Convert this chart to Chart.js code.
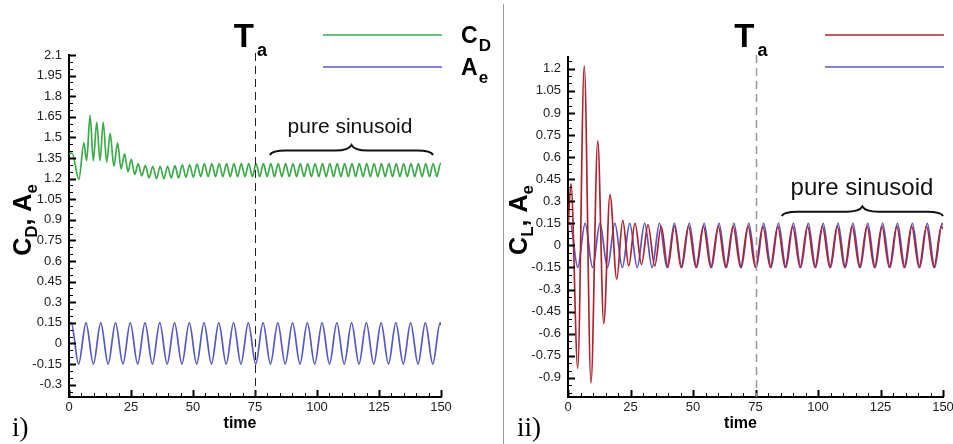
<!DOCTYPE html>
<html>
<head>
<meta charset="utf-8">
<script src="https://cdn.jsdelivr.net/npm/chart.js@4.4.0/dist/chart.umd.min.js"></script>
<style>
  html, body { margin: 0; padding: 0; background: #fff; }
  #wrap { position: relative; width: 953px; height: 444px; overflow: hidden; }
  #left { position: absolute; left: 0; top: 0; width: 503px; height: 444px; }
  #right { position: absolute; left: 504px; top: 0; width: 449px; height: 444px; }
  #sep { position: absolute; left: 503px; top: 4px; width: 1px; height: 440px; background: #9a9a9a; }
</style>
</head>
<body>
<div id="wrap">
  <div id="left"><canvas id="c1"></canvas></div>
  <div id="sep"></div>
  <div id="right"><canvas id="c2"></canvas></div>
</div>
<script>
// ---- data (local extrema of each trace) ----
const timeTicks = [0, 25, 50, 75, 100, 125, 150];
const yTicksDrag = [-0.3, -0.15, 0, 0.15, 0.3, 0.45, 0.6, 0.75, 0.9, 1.05, 1.2, 1.35, 1.5, 1.65, 1.8, 1.95, 2.1];
const yTicksLift = [-0.9, -0.75, -0.6, -0.45, -0.3, -0.15, 0, 0.15, 0.3, 0.45, 0.6, 0.75, 0.9, 1.05, 1.2];

// A_e (same forcing in both panels)
const aeTime = [
  0, 0.90, 3.88, 6.85, 9.83, 12.80, 15.78, 18.75, 21.73, 24.70, 27.68,
  30.65, 33.63, 36.60, 39.58, 42.55, 45.53, 48.50, 51.48, 54.45, 57.43,
  60.40, 63.38, 66.35, 69.33, 72.30, 75.28, 78.25, 81.23, 84.20, 87.18,
  90.15, 93.13, 96.10, 99.08, 102.05, 105.03, 108.00, 110.98, 113.95, 116.93,
  119.90, 122.88, 125.85, 128.83, 131.80, 134.78, 137.75, 140.73, 143.70, 146.68,
  149.65, 150
];
const aeValue = [
  0.14, 0.15, -0.15, 0.15, -0.15, 0.15, -0.15, 0.15, -0.15, 0.15, -0.15,
  0.15, -0.15, 0.15, -0.15, 0.15, -0.15, 0.15, -0.15, 0.15, -0.15,
  0.15, -0.15, 0.15, -0.15, 0.15, -0.15, 0.15, -0.15, 0.15, -0.15,
  0.15, -0.15, 0.15, -0.15, 0.15, -0.15, 0.15, -0.15, 0.15, -0.15,
  0.15, -0.15, 0.15, -0.15, 0.15, -0.15, 0.15, -0.15, 0.15, -0.15,
  0.15, 0.135
];

// C_D
const cdTime = [
  0, 1.2, 4.0, 6.0, 7.1, 8.5, 9.8, 11.2, 12.5, 13.8, 15.2, 16.6, 18.1, 19.6, 21.0, 22.4, 23.8, 25.1, 26.5, 27.9, 29.3,
  30.80, 32.29, 33.78, 35.27, 36.75, 38.24, 39.73, 41.22, 42.70, 44.19, 45.68, 47.17, 48.65, 50.14, 51.63,
  53.12, 54.60, 56.09, 57.58, 59.07, 60.55, 62.04, 63.53, 65.02, 66.50, 67.99, 69.48,
  70.97, 72.45, 73.94, 75.43, 76.92, 78.40, 79.89, 81.38, 82.87, 84.35, 85.84, 87.33,
  88.82, 90.30, 91.79, 93.28, 94.77, 96.25, 97.74, 99.23, 100.72, 102.20, 103.69, 105.18,
  106.67, 108.15, 109.64, 111.13, 112.62, 114.10, 115.59, 117.08, 118.57, 120.05, 121.54, 123.03,
  124.52, 126.00, 127.49, 128.98, 130.47, 131.95, 133.44, 134.93, 136.42, 137.90, 139.39, 140.88,
  142.37, 143.85, 145.34, 146.83, 148.32, 149.80, 150
];
const cdValue = [
  1.38, 1.385, 1.195, 1.46, 1.33, 1.66, 1.33, 1.61, 1.33, 1.61, 1.32, 1.53, 1.29, 1.46, 1.27, 1.38, 1.25, 1.34, 1.23, 1.31, 1.22,
  1.295, 1.205, 1.29, 1.20, 1.29, 1.20, 1.29, 1.205, 1.295, 1.205, 1.30, 1.21, 1.30, 1.21, 1.305,
  1.215, 1.31, 1.215, 1.31, 1.215, 1.31, 1.215, 1.31, 1.215, 1.31, 1.215, 1.31,
  1.215, 1.31, 1.215, 1.31, 1.215, 1.31, 1.215, 1.31, 1.215, 1.31, 1.215, 1.31,
  1.215, 1.31, 1.215, 1.31, 1.215, 1.31, 1.215, 1.31, 1.215, 1.31, 1.215, 1.31,
  1.215, 1.31, 1.215, 1.31, 1.215, 1.31, 1.215, 1.31, 1.215, 1.31, 1.215, 1.31,
  1.215, 1.31, 1.215, 1.31, 1.215, 1.31, 1.215, 1.31, 1.215, 1.31, 1.215, 1.31,
  1.215, 1.31, 1.215, 1.31, 1.215, 1.31, 1.305
];

// C_L
const clTime = [
  0, 1.2, 3.9, 6.5, 9.2, 11.9, 14.3, 16.8, 19.5, 21.9, 24.3, 26.8, 29.4, 32.0, 34.7, 37.3, 39.9, 42.6,
  45.23, 48.20, 51.18, 54.15, 57.13, 60.10, 63.08, 66.05, 69.03, 72.00, 74.98, 77.95,
  80.93, 83.90, 86.88, 89.85, 92.83, 95.80, 98.78, 101.75, 104.73, 107.70, 110.68, 113.65,
  116.63, 119.60, 122.58, 125.55, 128.53, 131.50, 134.48, 137.45, 140.43, 143.40, 146.38, 149.35, 150
];
const clValue = [
  0.1, 0.42, -0.835, 1.22, -0.935, 0.71, -0.53, 0.345, -0.23, 0.17, -0.14, 0.15, -0.13, 0.14, -0.14, 0.13, -0.15, 0.13,
  -0.15, 0.13, -0.15, 0.13, -0.15, 0.13, -0.15, 0.13, -0.15, 0.13, -0.15, 0.13,
  -0.15, 0.13, -0.15, 0.13, -0.15, 0.13, -0.15, 0.13, -0.15, 0.13, -0.15, 0.13,
  -0.15, 0.13, -0.15, 0.13, -0.15, 0.13, -0.15, 0.13, -0.15, 0.13, -0.15, 0.13, 0.11
];

const GREEN = '#3dab4a';
const BLUE = '#5858c4';
const RED = '#ab2430';
const FONT = "'Liberation Sans', Arial, sans-serif";

Chart.defaults.font.family = FONT;

// draw a run of text pieces (for subscripts)
function richText(ctx, parts, x, y, align) {
  let w = 0;
  parts.forEach(p => { ctx.font = p.f; p.w = ctx.measureText(p.t).width; w += p.w; });
  let cx = align === 'center' ? x - w / 2 : x;
  parts.forEach(p => { ctx.font = p.f; ctx.fillText(p.t, cx, y + (p.dy || 0)); cx += p.w; });
}

function drawBrace(ctx, x1, x2, yEnd, yTip) {
  const mid = (x1 + x2) / 2;
  const yFlat = yEnd - (yEnd - yTip) * 0.45;
  ctx.beginPath();
  ctx.moveTo(x1, yEnd);
  ctx.quadraticCurveTo(x1 + 2, yFlat, x1 + 16, yFlat);
  ctx.lineTo(mid - 16, yFlat);
  ctx.quadraticCurveTo(mid - 3, yFlat, mid, yTip);
  ctx.quadraticCurveTo(mid + 3, yFlat, mid + 16, yFlat);
  ctx.lineTo(x2 - 16, yFlat);
  ctx.quadraticCurveTo(x2 - 2, yFlat, x2, yEnd);
  ctx.stroke();
}

// everything that is not a data trace: inward ticks, Ta line, legend, notes, titles
function overlay(cfg) {
  return {
    id: 'overlay',
    afterDraw(chart) {
      const ctx = chart.ctx, xs = chart.scales.x, ys = chart.scales.y, a = chart.chartArea;
      ctx.save();

      // inward tick marks
      ctx.strokeStyle = '#000';
      for (let v = 0; v <= 150; v += 5) {
        const px = Math.round(xs.getPixelForValue(v)) + 0.5;
        const major = v % 25 === 0;
        ctx.lineWidth = major ? 2 : 1;
        ctx.beginPath();
        ctx.moveTo(px, a.bottom);
        ctx.lineTo(px, a.bottom - (major ? 7 : 4));
        ctx.stroke();
      }
      for (let k = Math.ceil(cfg.yMin / 0.05 - 1e-9); k * 0.05 <= cfg.yMax + 1e-9; k++) {
        const py = Math.round(ys.getPixelForValue(k * 0.05)) + 0.5;
        const major = k % 3 === 0;
        ctx.lineWidth = major ? 2 : 1;
        ctx.beginPath();
        ctx.moveTo(a.left, py);
        ctx.lineTo(a.left + (major ? 7 : 4), py);
        ctx.stroke();
      }

      // Ta dashed line
      const x75 = xs.getPixelForValue(75);
      ctx.strokeStyle = cfg.dashColor;
      ctx.lineWidth = cfg.dashWidth;
      ctx.setLineDash([8, 5]);
      ctx.beginPath();
      ctx.moveTo(Math.round(x75) + 0.5, a.top - 2);
      ctx.lineTo(Math.round(x75) + 0.5, a.bottom);
      ctx.stroke();
      ctx.setLineDash([]);

      ctx.fillStyle = '#000';
      ctx.textBaseline = 'alphabetic';
      ctx.textAlign = 'right';
      ctx.font = 'bold 33px ' + FONT;
      ctx.fillText('T', x75 - 1, 47);
      ctx.textAlign = 'left';
      ctx.font = 'bold 18px ' + FONT;
      ctx.fillText('a', x75 + 2, 56);

      // legend samples
      ctx.lineWidth = 1.6;
      cfg.legend.forEach((it, i) => {
        const y = 35 + i * 32;
        ctx.strokeStyle = it.color;
        ctx.beginPath();
        ctx.moveTo(cfg.legendX1, y);
        ctx.lineTo(cfg.legendX2, y);
        ctx.stroke();
        if (it.main) {
          richText(ctx, [
            { t: it.main, f: 'bold 23px ' + FONT },
            { t: ' ', f: 'bold 4px ' + FONT },
            { t: it.sub, f: 'bold 17px ' + FONT, dy: 8 }
          ], cfg.legendTextX, y + 8, 'left');
        }
      });

      // "pure sinusoid" note with brace
      ctx.textAlign = 'center';
      ctx.font = cfg.noteSize + 'px ' + FONT;
      ctx.fillStyle = '#111';
      ctx.fillText('pure sinusoid', cfg.noteX, cfg.noteY);
      ctx.strokeStyle = '#111';
      ctx.lineWidth = 2;
      drawBrace(ctx, xs.getPixelForValue(cfg.braceT[0]), xs.getPixelForValue(cfg.braceT[1]), cfg.braceY[0], cfg.braceY[1]);

      // axis titles
      ctx.fillStyle = '#000';
      ctx.textAlign = 'center';
      ctx.font = 'bold 16px ' + FONT;
      ctx.fillText('time', (a.left + a.right) / 2 - 15, 428);

      ctx.save();
      ctx.translate(cfg.yTitleX, 220);
      ctx.rotate(-Math.PI / 2);
      ctx.textAlign = 'left';
      richText(ctx, [
        { t: 'C', f: 'bold 25px ' + FONT },
        { t: cfg.ySub, f: 'bold 17px ' + FONT, dy: 6 },
        { t: ', ', f: 'bold 25px ' + FONT },
        { t: 'A', f: 'bold 25px ' + FONT },
        { t: 'e', f: 'bold 17px ' + FONT, dy: 6 }
      ], 0, 0, 'center');
      ctx.restore();

      // panel label
      ctx.textAlign = 'left';
      ctx.font = '27px "Liberation Serif", "Times New Roman", serif';
      ctx.fillText(cfg.panel, cfg.panelX, 436);

      ctx.restore();
    }
  };
}

function makeChart(id, cfg) {
  return new Chart(document.getElementById(id), {
    type: 'line',
    data: {
      datasets: cfg.series.map(s => ({
        data: s.t.map((t, i) => ({ x: t, y: s.v[i] })),
        borderColor: s.color,
        borderWidth: 1.7,
        pointRadius: 0,
        cubicInterpolationMode: 'monotone',
        borderJoinStyle: 'round',
        fill: false
      }))
    },
    options: {
      responsive: true,
      maintainAspectRatio: false,
      animation: false,
      events: [],
      layout: { padding: { left: 0, right: cfg.padRight, top: cfg.padTop, bottom: 0 } },
      plugins: { legend: { display: false }, tooltip: { enabled: false } },
      scales: {
        x: {
          type: 'linear', min: 0, max: 150,
          afterBuildTicks: s => { s.ticks = timeTicks.map(v => ({ value: v })); },
          afterFit: s => { s.height = 47; s.paddingLeft = 0; s.paddingRight = 0; },
          grid: { display: false, drawTicks: false },
          border: { display: true, color: '#000', width: 2 },
          ticks: { padding: 3, color: '#222', font: { size: 13 }, maxRotation: 0, autoSkip: false }
        },
        y: {
          type: 'linear', min: cfg.yMin, max: cfg.yMax,
          afterBuildTicks: s => { s.ticks = cfg.yTicks.map(v => ({ value: v })); },
          afterFit: s => { s.width = cfg.yWidth; s.paddingTop = 0; s.paddingBottom = 0; },
          grid: { display: false, drawTicks: false },
          border: { display: true, color: '#000', width: 2 },
          ticks: {
            padding: 7, color: '#222', font: { size: 13 }, autoSkip: false,
            callback: v => String(+Number(v).toFixed(2))
          }
        }
      }
    },
    plugins: [overlay(cfg)]
  });
}

// --- panel i: drag ---
makeChart('c1', {
  series: [
    { t: cdTime, v: cdValue, color: GREEN },
    { t: aeTime, v: aeValue, color: BLUE }
  ],
  yMin: -0.39, yMax: 2.1, yTicks: yTicksDrag,
  yWidth: 69, padRight: 62, padTop: 55,
  dashColor: '#222', dashWidth: 1,
  legend: [
    { color: GREEN, main: 'C', sub: 'D' },
    { color: BLUE, main: 'A', sub: 'e' }
  ],
  legendX1: 323, legendX2: 442, legendTextX: 461,
  noteSize: 21, noteX: 350, noteY: 133,
  braceT: [81, 146.8], braceY: [155, 145],
  yTitleX: 31, ySub: 'D',
  panel: 'i)', panelX: 12
});

// --- panel ii: lift ---
makeChart('c2', {
  series: [
    { t: clTime, v: clValue, color: RED },
    { t: aeTime, v: aeValue, color: BLUE }
  ],
  yMin: -1.03, yMax: 1.28, yTicks: yTicksLift,
  yWidth: 64, padRight: 10, padTop: 57,
  dashColor: '#999', dashWidth: 1.5,
  legend: [
    { color: RED },
    { color: BLUE }
  ],
  legendX1: 321, legendX2: 440, legendTextX: 460,
  noteSize: 24, noteX: 358, noteY: 195,
  braceT: [85.5, 150], braceY: [216, 206.5],
  yTitleX: 23, ySub: 'L',
  panel: 'ii)', panelX: 13
});
</script>
</body>
</html>
